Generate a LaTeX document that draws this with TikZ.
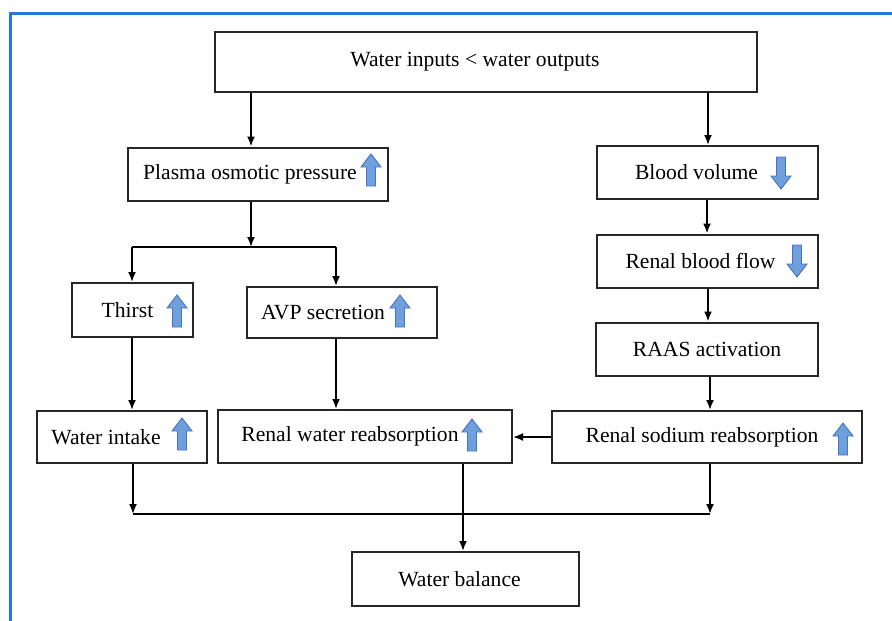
\documentclass[tikz,border=0pt]{standalone}
\usepackage{fontspec}
\setmainfont{Liberation Serif}
\usetikzlibrary{arrows.meta}
\usetikzlibrary{positioning}

\definecolor{framebl}{RGB}{40,118,215}
\definecolor{iconfill}{RGB}{112,160,220}
\definecolor{icondraw}{RGB}{68,114,196}

\tikzset{
  box/.style={draw=black!85, line width=2pt, minimum height=53pt, inner sep=0pt},
  link/.style={line width=1.8pt, -{Latex[length=10pt,width=8pt]}},
  plain/.style={line width=1.8pt},
  icon/.style={fill=iconfill, draw=icondraw, line width=0.9pt, line join=miter},
  uparr/.pic={\draw[icon] (-4.5,16) -- (-4.5,-3) -- (-10,-3) -- (0,-16) -- (10,-3) -- (4.5,-3) -- (4.5,16) -- cycle;},
  downarr/.pic={\draw[icon] (-4.5,-16) -- (-4.5,3) -- (-10,3) -- (0,16) -- (10,3) -- (4.5,3) -- (4.5,-16) -- cycle;}
}

\begin{document}
\begin{tikzpicture}[x=1pt, y=-1pt, font=\fontsize{21.6}{26}\selectfont]
  \useasboundingbox (0,0) rectangle (892,621);

  % frame
  \draw[framebl, line width=3pt] (10,621) -- (10,13) -- (892,13);

  % boxes
  \node[box, minimum width=542pt, minimum height=60pt, label={[xshift=-11pt]center:Water inputs < water outputs}] (inout) at (486,62) {};
  \node[box, minimum width=260pt, label={[xshift=-8pt]center:Plasma osmotic pressure}] (plasma) at (258,174) {};
  \node[box, minimum width=221pt, label={[xshift=-11pt]center:Blood volume}] (volume) at (707.5,172.5) {};
  \node[box, minimum width=221pt, label={[xshift=-7pt]center:Renal blood flow}] (flow) at (707.5,261) {};
  \node[box, minimum width=222pt, label={center:RAAS activation}] (raas) at (707,349) {};
  \node[box, minimum width=121pt, minimum height=54pt, label={[xshift=-5pt]center:Thirst}] (thirst) at (132.5,310) {};
  \node[box, minimum width=190pt, minimum height=51pt, label={[xshift=-19pt]center:AVP secretion}] (avp) at (342,312.5) {};
  \node[box, minimum width=170pt, minimum height=52pt, label={[xshift=-16pt]center:Water intake}] (intake) at (122,437) {};
  \node[box, minimum width=294pt, label={[xshift=-15pt]center:Renal water reabsorption}] (water) at (365,436.5) {};
  \node[box, minimum width=310pt, minimum height=52pt, label={[xshift=-5pt]center:Renal sodium reabsorption}] (sodium) at (707,437) {};
  \node[box, minimum width=227pt, minimum height=54pt, label={[xshift=-6pt]center:Water balance}] (balance) at (465.5,579) {};

  % up and down icons
  \pic at (371,170) {uparr};
  \pic at (781,173) {downarr};
  \pic at (797,261) {downarr};
  \pic at (177,311) {uparr};
  \pic at (400,311) {uparr};
  \pic at (182,434) {uparr};
  \pic at (472,435) {uparr};
  \pic at (843,439) {uparr};

  % junctions
  \coordinate (split) at (251,247);
  \coordinate (joinleft) at (133,514);
  \coordinate (joinright) at (710,514);

  % connectors
  \draw[link] (inout.south -| split) -- (plasma.north -| split);
  \draw[link] (inout.south -| 708,0) -- (volume.north -| 708,0);
  \draw[link] (plasma.south -| split) -- (split);
  \draw[plain] (split -| 132,0) -- (split -| 336,0);
  \draw[link] (split -| 132,0) -- (thirst.north -| 132,0);
  \draw[link] (split -| 336,0) -- (avp.north -| 336,0);
  \draw[link] (volume.south -| 707,0) -- (flow.north -| 707,0);
  \draw[link] (flow.south -| 708,0) -- (raas.north -| 708,0);
  \draw[link] (raas.south -| joinright) -- (sodium.north -| joinright);
  \draw[link] (thirst.south -| 132,0) -- (intake.north -| 132,0);
  \draw[link] (avp.south -| 336,0) -- (water.north -| 336,0);
  \draw[link] (sodium.west) -- (water.east |- sodium.west);
  \draw[link] (intake.south -| joinleft) -- (joinleft);
  \draw[link] (sodium.south -| joinright) -- (joinright);
  \draw[plain] (joinleft) -- (joinright);
  \draw[link] (water.south -| 463,0) -- (balance.north -| 463,0);
\end{tikzpicture}
\end{document}
